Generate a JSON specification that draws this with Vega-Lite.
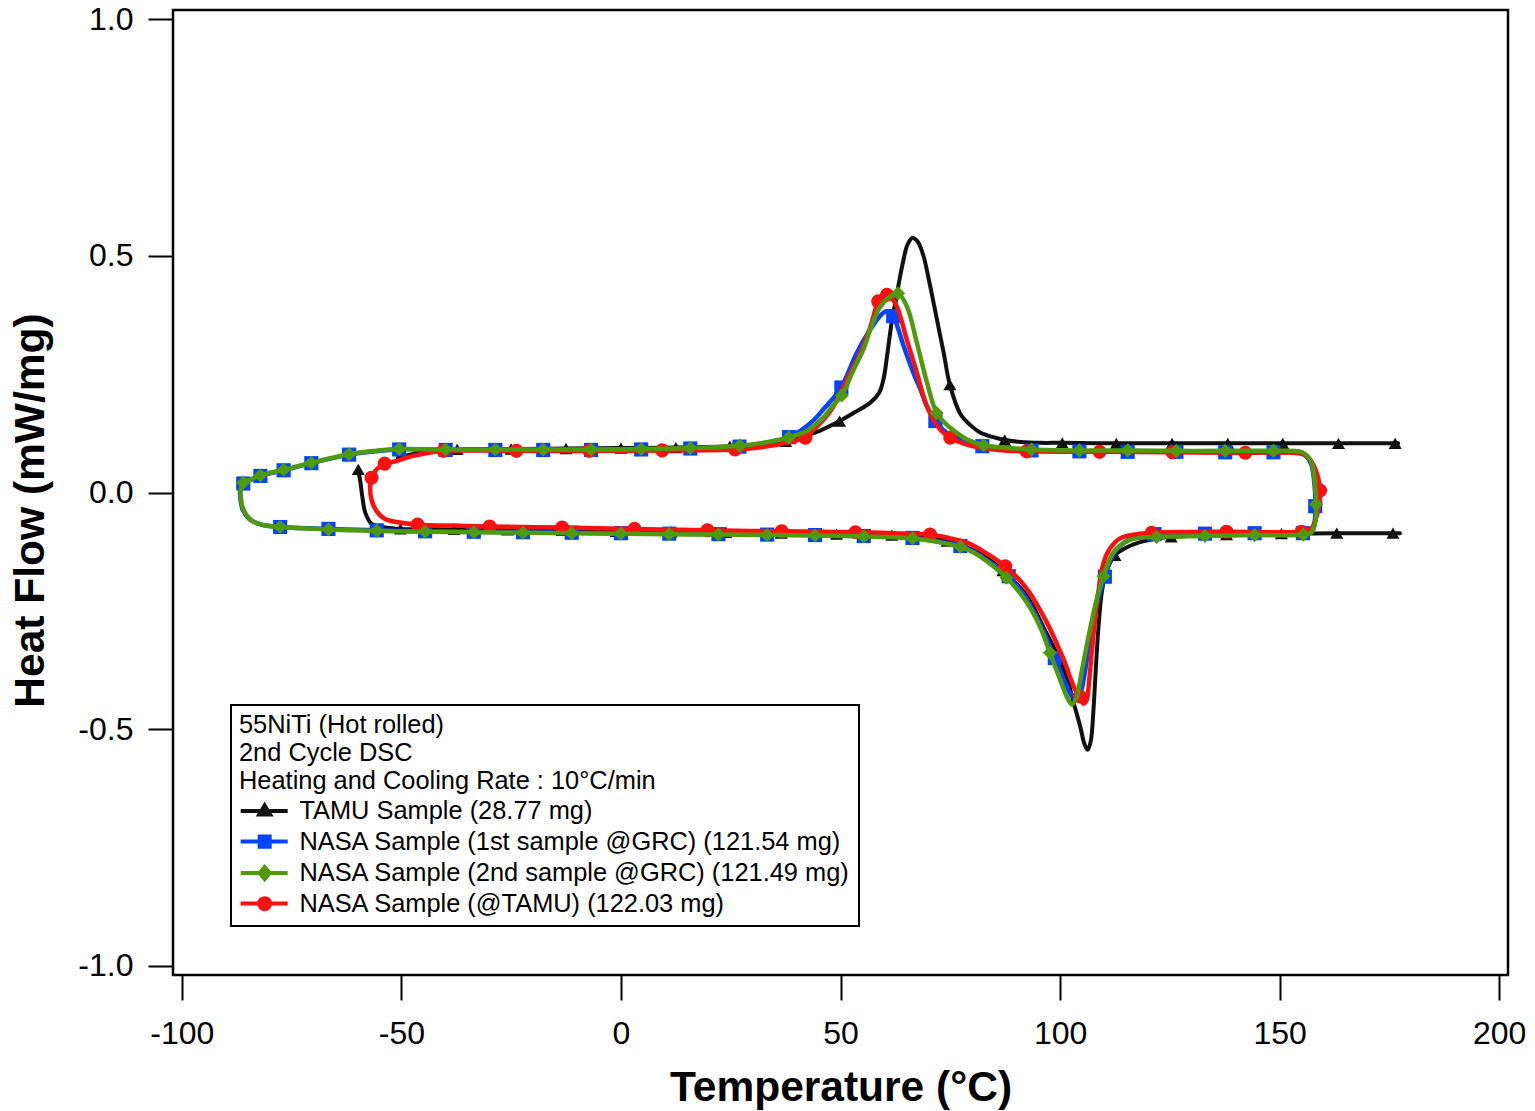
{
  "$schema": "https://vega.github.io/schema/vega-lite/v6.json",
  "width": 1335,
  "height": 965,
  "autosize": {"type": "none"},
  "padding": {"left": 173, "top": 10, "right": 27, "bottom": 136},
  "background": "white",
  "config": {
    "view": {"stroke": "black", "strokeWidth": 2.5},
    "font": "Liberation Sans",
    "axis": {"grid": false, "domain": false, "ticks": true, "tickColor": "black", "tickWidth": 2, "tickSize": 25,
      "labelColor": "black", "labelFont": "Liberation Sans", "labelFontSize": 32, "titleColor": "black",
      "titleFont": "Liberation Sans", "titleFontSize": 42.5, "titleFontWeight": "bold",
      "labelFlush": false, "labelOverlap": false, "labelBound": false}
  },
  "data": {"values": [
    {"s":"TAMU","g":1,"T":-59.8,"H":0.049,"m":1},{"s":"TAMU","g":1,"T":-59.3,"H":0.020},{"s":"TAMU","g":1,"T":-58.9,"H":-0.008},{"s":"TAMU","g":1,"T":-58.2,"H":-0.043},{"s":"TAMU","g":1,"T":-56.7,"H":-0.067},{"s":"TAMU","g":1,"T":-53.6,"H":-0.074},
    {"s":"TAMU","g":1,"T":-50.2,"H":-0.077,"m":1},{"s":"TAMU","g":1,"T":-38.0,"H":-0.078,"m":1},{"s":"TAMU","g":1,"T":-25.8,"H":-0.079,"m":1},{"s":"TAMU","g":1,"T":-13.4,"H":-0.080,"m":1},{"s":"TAMU","g":1,"T":-1.1,"H":-0.082,"m":1},{"s":"TAMU","g":1,"T":11.4,"H":-0.083,"m":1},{"s":"TAMU","g":1,"T":23.9,"H":-0.084,"m":1},{"s":"TAMU","g":1,"T":36.5,"H":-0.086,"m":1},{"s":"TAMU","g":1,"T":49.1,"H":-0.088,"m":1},{"s":"TAMU","g":1,"T":61.7,"H":-0.090,"m":1},
    {"s":"TAMU","g":1,"T":68.0,"H":-0.094},{"s":"TAMU","g":1,"T":74.3,"H":-0.103,"m":1},{"s":"TAMU","g":1,"T":78.8,"H":-0.116},{"s":"TAMU","g":1,"T":83.3,"H":-0.138},{"s":"TAMU","g":1,"T":87.0,"H":-0.165,"m":1},{"s":"TAMU","g":1,"T":92.4,"H":-0.218},{"s":"TAMU","g":1,"T":96.5,"H":-0.290},{"s":"TAMU","g":1,"T":99.7,"H":-0.350,"m":1},{"s":"TAMU","g":1,"T":101.8,"H":-0.400},{"s":"TAMU","g":1,"T":103.2,"H":-0.448},{"s":"TAMU","g":1,"T":104.6,"H":-0.495},{"s":"TAMU","g":1,"T":105.5,"H":-0.530},{"s":"TAMU","g":1,"T":106.3,"H":-0.544},{"s":"TAMU","g":1,"T":107.0,"H":-0.525},{"s":"TAMU","g":1,"T":107.6,"H":-0.460},{"s":"TAMU","g":1,"T":108.0,"H":-0.396},{"s":"TAMU","g":1,"T":108.7,"H":-0.290},{"s":"TAMU","g":1,"T":109.6,"H":-0.205},{"s":"TAMU","g":1,"T":110.8,"H":-0.160},{"s":"TAMU","g":1,"T":112.5,"H":-0.133,"m":1},{"s":"TAMU","g":1,"T":115.0,"H":-0.117},{"s":"TAMU","g":1,"T":118.2,"H":-0.105},{"s":"TAMU","g":1,"T":122.8,"H":-0.096},{"s":"TAMU","g":1,"T":125.3,"H":-0.094,"m":1},{"s":"TAMU","g":1,"T":131.0,"H":-0.091},{"s":"TAMU","g":1,"T":137.9,"H":-0.089,"m":1},{"s":"TAMU","g":1,"T":150.4,"H":-0.087,"m":1},{"s":"TAMU","g":1,"T":163.0,"H":-0.086,"m":1},{"s":"TAMU","g":1,"T":175.8,"H":-0.086,"m":1},{"s":"TAMU","g":1,"T":177.4,"H":-0.086},
    {"s":"TAMU","g":2,"T":177.0,"H":0.104},{"s":"TAMU","g":2,"T":176.3,"H":0.104,"m":1},{"s":"TAMU","g":2,"T":163.4,"H":0.104,"m":1},{"s":"TAMU","g":2,"T":150.7,"H":0.104,"m":1},{"s":"TAMU","g":2,"T":138.2,"H":0.104,"m":1},{"s":"TAMU","g":2,"T":125.5,"H":0.104,"m":1},{"s":"TAMU","g":2,"T":112.8,"H":0.104,"m":1},{"s":"TAMU","g":2,"T":100.5,"H":0.105,"m":1},{"s":"TAMU","g":2,"T":95.5,"H":0.105},{"s":"TAMU","g":2,"T":91.0,"H":0.107},{"s":"TAMU","g":2,"T":87.4,"H":0.111,"m":1},{"s":"TAMU","g":2,"T":84.8,"H":0.117},{"s":"TAMU","g":2,"T":81.8,"H":0.127},{"s":"TAMU","g":2,"T":79.5,"H":0.143},{"s":"TAMU","g":2,"T":77.3,"H":0.166},{"s":"TAMU","g":2,"T":74.9,"H":0.228,"m":1},{"s":"TAMU","g":2,"T":73.5,"H":0.295},{"s":"TAMU","g":2,"T":72.3,"H":0.350},{"s":"TAMU","g":2,"T":71.2,"H":0.401},{"s":"TAMU","g":2,"T":70.0,"H":0.455},{"s":"TAMU","g":2,"T":68.9,"H":0.500},{"s":"TAMU","g":2,"T":67.6,"H":0.530},{"s":"TAMU","g":2,"T":66.4,"H":0.538},{"s":"TAMU","g":2,"T":65.3,"H":0.525},{"s":"TAMU","g":2,"T":64.3,"H":0.490},{"s":"TAMU","g":2,"T":63.3,"H":0.443},{"s":"TAMU","g":2,"T":62.5,"H":0.400},{"s":"TAMU","g":2,"T":62.0,"H":0.380,"m":1},{"s":"TAMU","g":2,"T":61.2,"H":0.330},{"s":"TAMU","g":2,"T":60.5,"H":0.281},{"s":"TAMU","g":2,"T":59.8,"H":0.240},{"s":"TAMU","g":2,"T":58.8,"H":0.211},{"s":"TAMU","g":2,"T":56.8,"H":0.190},{"s":"TAMU","g":2,"T":53.7,"H":0.172},{"s":"TAMU","g":2,"T":49.8,"H":0.151,"m":1},{"s":"TAMU","g":2,"T":45.4,"H":0.131},{"s":"TAMU","g":2,"T":40.8,"H":0.117},{"s":"TAMU","g":2,"T":37.5,"H":0.108,"m":1},{"s":"TAMU","g":2,"T":30.5,"H":0.101},{"s":"TAMU","g":2,"T":24.8,"H":0.098,"m":1},{"s":"TAMU","g":2,"T":12.5,"H":0.095,"m":1},{"s":"TAMU","g":2,"T":0.0,"H":0.094,"m":1},{"s":"TAMU","g":2,"T":-12.5,"H":0.093,"m":1},{"s":"TAMU","g":2,"T":-25.0,"H":0.092,"m":1},{"s":"TAMU","g":2,"T":-37.3,"H":0.091,"m":1},{"s":"TAMU","g":2,"T":-44.0,"H":0.087},{"s":"TAMU","g":2,"T":-48.0,"H":0.080},{"s":"TAMU","g":2,"T":-50.8,"H":0.073},

    {"s":"GRC1","T":-86.0,"H":0.019,"m":1},{"s":"GRC1","T":-86.7,"H":0.003},{"s":"GRC1","T":-86.6,"H":-0.017},{"s":"GRC1","T":-86.1,"H":-0.037},{"s":"GRC1","T":-84.5,"H":-0.057},{"s":"GRC1","T":-81.9,"H":-0.068},{"s":"GRC1","T":-77.6,"H":-0.073,"m":1},{"s":"GRC1","T":-66.6,"H":-0.077,"m":1},{"s":"GRC1","T":-55.6,"H":-0.080,"m":1},{"s":"GRC1","T":-44.6,"H":-0.082,"m":1},{"s":"GRC1","T":-33.5,"H":-0.083,"m":1},{"s":"GRC1","T":-22.3,"H":-0.084,"m":1},{"s":"GRC1","T":-11.2,"H":-0.085,"m":1},{"s":"GRC1","T":0.0,"H":-0.086,"m":1},{"s":"GRC1","T":11.0,"H":-0.087,"m":1},{"s":"GRC1","T":22.2,"H":-0.088,"m":1},{"s":"GRC1","T":33.3,"H":-0.089,"m":1},{"s":"GRC1","T":44.2,"H":-0.090,"m":1},{"s":"GRC1","T":55.3,"H":-0.092,"m":1},{"s":"GRC1","T":66.4,"H":-0.096,"m":1},
    {"s":"GRC1","T":72.0,"H":-0.103},{"s":"GRC1","T":77.3,"H":-0.113,"m":1},{"s":"GRC1","T":80.5,"H":-0.126},{"s":"GRC1","T":83.3,"H":-0.143},{"s":"GRC1","T":88.3,"H":-0.177,"m":1},{"s":"GRC1","T":92.4,"H":-0.225},{"s":"GRC1","T":95.8,"H":-0.285},{"s":"GRC1","T":98.8,"H":-0.350,"m":1},{"s":"GRC1","T":101.3,"H":-0.405},{"s":"GRC1","T":102.8,"H":-0.432},{"s":"GRC1","T":103.9,"H":-0.440},{"s":"GRC1","T":105.0,"H":-0.412},{"s":"GRC1","T":106.5,"H":-0.330},{"s":"GRC1","T":108.2,"H":-0.245},{"s":"GRC1","T":110.2,"H":-0.178,"m":1},{"s":"GRC1","T":112.3,"H":-0.128},{"s":"GRC1","T":115.5,"H":-0.101},{"s":"GRC1","T":118.5,"H":-0.092},{"s":"GRC1","T":121.5,"H":-0.088,"m":1},{"s":"GRC1","T":133.0,"H":-0.087,"m":1},{"s":"GRC1","T":144.3,"H":-0.086,"m":1},{"s":"GRC1","T":155.3,"H":-0.086,"m":1},{"s":"GRC1","T":157.3,"H":-0.081},{"s":"GRC1","T":158.0,"H":-0.060},{"s":"GRC1","T":158.1,"H":-0.029,"m":1},{"s":"GRC1","T":158.0,"H":0.010},{"s":"GRC1","T":157.2,"H":0.060},{"s":"GRC1","T":156.0,"H":0.077},{"s":"GRC1","T":154.5,"H":0.084},
    {"s":"GRC1","T":148.6,"H":0.085,"m":1},{"s":"GRC1","T":137.6,"H":0.085,"m":1},{"s":"GRC1","T":126.5,"H":0.086,"m":1},{"s":"GRC1","T":115.4,"H":0.086,"m":1},{"s":"GRC1","T":104.4,"H":0.087,"m":1},{"s":"GRC1","T":93.5,"H":0.089,"m":1},{"s":"GRC1","T":87.0,"H":0.092},{"s":"GRC1","T":82.3,"H":0.098,"m":1},{"s":"GRC1","T":78.8,"H":0.108},{"s":"GRC1","T":76.5,"H":0.116},{"s":"GRC1","T":74.2,"H":0.126},{"s":"GRC1","T":71.6,"H":0.151,"m":1},{"s":"GRC1","T":69.7,"H":0.182},{"s":"GRC1","T":68.2,"H":0.218},{"s":"GRC1","T":66.6,"H":0.253},{"s":"GRC1","T":64.4,"H":0.309},{"s":"GRC1","T":63.0,"H":0.350},{"s":"GRC1","T":62.0,"H":0.373,"m":1},{"s":"GRC1","T":60.5,"H":0.383},{"s":"GRC1","T":59.0,"H":0.373},{"s":"GRC1","T":56.8,"H":0.345},{"s":"GRC1","T":53.7,"H":0.295},{"s":"GRC1","T":50.2,"H":0.222,"m":1},{"s":"GRC1","T":48.4,"H":0.200},{"s":"GRC1","T":46.5,"H":0.180},{"s":"GRC1","T":43.8,"H":0.152},{"s":"GRC1","T":40.8,"H":0.130},{"s":"GRC1","T":38.3,"H":0.117,"m":1},{"s":"GRC1","T":33.0,"H":0.105},{"s":"GRC1","T":27.0,"H":0.097,"m":1},{"s":"GRC1","T":15.8,"H":0.093,"m":1},{"s":"GRC1","T":4.6,"H":0.091,"m":1},{"s":"GRC1","T":-6.8,"H":0.090,"m":1},{"s":"GRC1","T":-17.7,"H":0.090,"m":1},{"s":"GRC1","T":-28.6,"H":0.090,"m":1},{"s":"GRC1","T":-39.9,"H":0.090,"m":1},{"s":"GRC1","T":-50.5,"H":0.091,"m":1},{"s":"GRC1","T":-56.0,"H":0.087},{"s":"GRC1","T":-61.9,"H":0.080,"m":1},{"s":"GRC1","T":-70.5,"H":0.062,"m":1},{"s":"GRC1","T":-76.8,"H":0.047,"m":1},{"s":"GRC1","T":-82.1,"H":0.035,"m":1},{"s":"GRC1","T":-86.0,"H":0.019},

    {"s":"NTAMU","T":-56.8,"H":0.031,"m":1},{"s":"NTAMU","T":-57.1,"H":0.013},{"s":"NTAMU","T":-56.8,"H":-0.015},{"s":"NTAMU","T":-55.6,"H":-0.040},{"s":"NTAMU","T":-53.7,"H":-0.056},{"s":"NTAMU","T":-49.9,"H":-0.064},{"s":"NTAMU","T":-46.3,"H":-0.068,"m":1},{"s":"NTAMU","T":-38.0,"H":-0.070},{"s":"NTAMU","T":-29.9,"H":-0.072,"m":1},{"s":"NTAMU","T":-13.4,"H":-0.074,"m":1},{"s":"NTAMU","T":3.1,"H":-0.077,"m":1},{"s":"NTAMU","T":19.7,"H":-0.080,"m":1},{"s":"NTAMU","T":36.6,"H":-0.082,"m":1},{"s":"NTAMU","T":53.4,"H":-0.084,"m":1},{"s":"NTAMU","T":62.0,"H":-0.086},{"s":"NTAMU","T":70.4,"H":-0.089,"m":1},{"s":"NTAMU","T":75.0,"H":-0.097},{"s":"NTAMU","T":78.8,"H":-0.106},{"s":"NTAMU","T":83.0,"H":-0.127},{"s":"NTAMU","T":87.5,"H":-0.156,"m":1},{"s":"NTAMU","T":92.4,"H":-0.203},{"s":"NTAMU","T":97.0,"H":-0.275},{"s":"NTAMU","T":100.8,"H":-0.353},{"s":"NTAMU","T":103.4,"H":-0.416},{"s":"NTAMU","T":104.5,"H":-0.431,"m":1},{"s":"NTAMU","T":105.3,"H":-0.446},{"s":"NTAMU","T":106.0,"H":-0.440},{"s":"NTAMU","T":106.6,"H":-0.400},{"s":"NTAMU","T":107.2,"H":-0.339},{"s":"NTAMU","T":108.4,"H":-0.233},{"s":"NTAMU","T":109.9,"H":-0.149},{"s":"NTAMU","T":111.4,"H":-0.118},{"s":"NTAMU","T":113.7,"H":-0.097},{"s":"NTAMU","T":117.5,"H":-0.088},{"s":"NTAMU","T":120.9,"H":-0.085,"m":1},{"s":"NTAMU","T":137.9,"H":-0.083,"m":1},{"s":"NTAMU","T":155.0,"H":-0.083,"m":1},{"s":"NTAMU","T":157.0,"H":-0.079},{"s":"NTAMU","T":158.1,"H":-0.060},{"s":"NTAMU","T":158.9,"H":-0.030},{"s":"NTAMU","T":159.2,"H":0.004,"m":1},{"s":"NTAMU","T":158.8,"H":0.030},{"s":"NTAMU","T":157.6,"H":0.060},{"s":"NTAMU","T":156.2,"H":0.077},{"s":"NTAMU","T":154.5,"H":0.083},
    {"s":"NTAMU","T":142.2,"H":0.084,"m":1},{"s":"NTAMU","T":125.6,"H":0.085,"m":1},{"s":"NTAMU","T":109.0,"H":0.086,"m":1},{"s":"NTAMU","T":92.4,"H":0.087,"m":1},{"s":"NTAMU","T":86.0,"H":0.090},{"s":"NTAMU","T":81.0,"H":0.096},{"s":"NTAMU","T":78.8,"H":0.101},{"s":"NTAMU","T":75.0,"H":0.116,"m":1},{"s":"NTAMU","T":72.7,"H":0.133},{"s":"NTAMU","T":69.7,"H":0.182},{"s":"NTAMU","T":67.4,"H":0.253},{"s":"NTAMU","T":65.1,"H":0.323},{"s":"NTAMU","T":62.5,"H":0.400},{"s":"NTAMU","T":60.6,"H":0.418,"m":1},{"s":"NTAMU","T":59.6,"H":0.414},{"s":"NTAMU","T":58.6,"H":0.404,"m":1},{"s":"NTAMU","T":56.8,"H":0.350},{"s":"NTAMU","T":54.5,"H":0.295},{"s":"NTAMU","T":51.5,"H":0.239},{"s":"NTAMU","T":48.4,"H":0.182},{"s":"NTAMU","T":46.8,"H":0.161},{"s":"NTAMU","T":43.9,"H":0.133},{"s":"NTAMU","T":42.0,"H":0.116,"m":1},{"s":"NTAMU","T":40.0,"H":0.110},{"s":"NTAMU","T":37.8,"H":0.105},{"s":"NTAMU","T":33.0,"H":0.097},{"s":"NTAMU","T":26.0,"H":0.091,"m":1},{"s":"NTAMU","T":9.4,"H":0.089,"m":1},{"s":"NTAMU","T":-7.2,"H":0.088,"m":1},{"s":"NTAMU","T":-23.8,"H":0.088,"m":1},{"s":"NTAMU","T":-40.4,"H":0.088,"m":1},{"s":"NTAMU","T":-45.0,"H":0.082},{"s":"NTAMU","T":-47.6,"H":0.077},{"s":"NTAMU","T":-51.4,"H":0.066},{"s":"NTAMU","T":-53.8,"H":0.061,"m":1},{"s":"NTAMU","T":-55.6,"H":0.049},{"s":"NTAMU","T":-56.8,"H":0.031},

    {"s":"GRC2","T":-86.0,"H":0.021,"m":1},{"s":"GRC2","T":-86.6,"H":0.005},{"s":"GRC2","T":-86.5,"H":-0.015},{"s":"GRC2","T":-86.0,"H":-0.036},{"s":"GRC2","T":-84.4,"H":-0.057},{"s":"GRC2","T":-81.8,"H":-0.068},{"s":"GRC2","T":-77.6,"H":-0.073,"m":1},{"s":"GRC2","T":-66.6,"H":-0.078,"m":1},{"s":"GRC2","T":-55.6,"H":-0.081,"m":1},{"s":"GRC2","T":-44.6,"H":-0.083,"m":1},{"s":"GRC2","T":-33.5,"H":-0.084,"m":1},{"s":"GRC2","T":-22.3,"H":-0.085,"m":1},{"s":"GRC2","T":-11.2,"H":-0.086,"m":1},{"s":"GRC2","T":0.0,"H":-0.087,"m":1},{"s":"GRC2","T":11.0,"H":-0.088,"m":1},{"s":"GRC2","T":22.2,"H":-0.089,"m":1},{"s":"GRC2","T":33.3,"H":-0.090,"m":1},{"s":"GRC2","T":44.2,"H":-0.091,"m":1},{"s":"GRC2","T":55.3,"H":-0.093,"m":1},{"s":"GRC2","T":66.4,"H":-0.097,"m":1},
    {"s":"GRC2","T":72.0,"H":-0.104},{"s":"GRC2","T":77.3,"H":-0.115,"m":1},{"s":"GRC2","T":80.5,"H":-0.128},{"s":"GRC2","T":83.3,"H":-0.145},{"s":"GRC2","T":87.8,"H":-0.180,"m":1},{"s":"GRC2","T":92.4,"H":-0.232},{"s":"GRC2","T":95.5,"H":-0.285},{"s":"GRC2","T":97.7,"H":-0.339,"m":1},{"s":"GRC2","T":100.0,"H":-0.395},{"s":"GRC2","T":101.5,"H":-0.431},{"s":"GRC2","T":102.7,"H":-0.448},{"s":"GRC2","T":103.8,"H":-0.432},{"s":"GRC2","T":104.8,"H":-0.385},{"s":"GRC2","T":106.8,"H":-0.290},{"s":"GRC2","T":108.5,"H":-0.220},{"s":"GRC2","T":109.9,"H":-0.177,"m":1},{"s":"GRC2","T":112.1,"H":-0.127},{"s":"GRC2","T":115.2,"H":-0.103},{"s":"GRC2","T":118.2,"H":-0.096},{"s":"GRC2","T":122.0,"H":-0.094,"m":1},{"s":"GRC2","T":133.0,"H":-0.092,"m":1},{"s":"GRC2","T":144.3,"H":-0.090,"m":1},{"s":"GRC2","T":155.4,"H":-0.089,"m":1},{"s":"GRC2","T":157.3,"H":-0.084},{"s":"GRC2","T":158.1,"H":-0.064},{"s":"GRC2","T":158.3,"H":-0.025,"m":1},{"s":"GRC2","T":158.1,"H":0.013},{"s":"GRC2","T":157.3,"H":0.062},{"s":"GRC2","T":156.0,"H":0.080},{"s":"GRC2","T":154.5,"H":0.087},
    {"s":"GRC2","T":148.6,"H":0.088,"m":1},{"s":"GRC2","T":137.6,"H":0.088,"m":1},{"s":"GRC2","T":126.5,"H":0.088,"m":1},{"s":"GRC2","T":115.4,"H":0.089,"m":1},{"s":"GRC2","T":104.4,"H":0.089,"m":1},{"s":"GRC2","T":93.5,"H":0.091,"m":1},{"s":"GRC2","T":87.0,"H":0.095},{"s":"GRC2","T":82.6,"H":0.100,"m":1},{"s":"GRC2","T":78.8,"H":0.112},{"s":"GRC2","T":76.5,"H":0.126},{"s":"GRC2","T":74.0,"H":0.145},{"s":"GRC2","T":71.9,"H":0.168,"m":1},{"s":"GRC2","T":69.7,"H":0.232},{"s":"GRC2","T":67.4,"H":0.316},{"s":"GRC2","T":65.1,"H":0.394},{"s":"GRC2","T":63.1,"H":0.421,"m":1},{"s":"GRC2","T":61.3,"H":0.414},{"s":"GRC2","T":59.0,"H":0.392},{"s":"GRC2","T":57.0,"H":0.350},{"s":"GRC2","T":55.2,"H":0.302},{"s":"GRC2","T":53.0,"H":0.260},{"s":"GRC2","T":50.3,"H":0.205,"m":1},{"s":"GRC2","T":48.4,"H":0.185},{"s":"GRC2","T":46.5,"H":0.163},{"s":"GRC2","T":44.5,"H":0.145},{"s":"GRC2","T":42.3,"H":0.130},{"s":"GRC2","T":40.2,"H":0.122},{"s":"GRC2","T":38.2,"H":0.116,"m":1},{"s":"GRC2","T":33.0,"H":0.106},{"s":"GRC2","T":27.1,"H":0.099,"m":1},{"s":"GRC2","T":15.8,"H":0.094,"m":1},{"s":"GRC2","T":4.6,"H":0.092,"m":1},{"s":"GRC2","T":-6.8,"H":0.091,"m":1},{"s":"GRC2","T":-17.7,"H":0.091,"m":1},{"s":"GRC2","T":-28.6,"H":0.091,"m":1},{"s":"GRC2","T":-39.9,"H":0.091,"m":1},{"s":"GRC2","T":-50.5,"H":0.092,"m":1},{"s":"GRC2","T":-56.0,"H":0.088},{"s":"GRC2","T":-61.9,"H":0.081,"m":1},{"s":"GRC2","T":-70.5,"H":0.063,"m":1},{"s":"GRC2","T":-76.8,"H":0.048,"m":1},{"s":"GRC2","T":-82.1,"H":0.036,"m":1},{"s":"GRC2","T":-86.0,"H":0.021}
  ]},
  "encoding": {
    "x": {"field": "T", "type": "quantitative",
      "scale": {"domain": [-102, 202], "nice": false, "zero": false},
      "axis": {"values": [-100, -50, 0, 50, 100, 150, 200], "title": "Temperature (°C)", "labelPadding": 18, "titlePadding": 17, "labelExpr": "'' + datum.value"}},
    "y": {"field": "H", "type": "quantitative",
      "scale": {"domain": [-1.02, 1.02], "nice": false, "zero": false},
      "axis": {"values": [-1, -0.5, 0, 0.5, 1], "title": "Heat Flow (mW/mg)", "labelPadding": 15, "titlePadding": 25, "titleY": 500,
        "labelExpr": "replace(format(datum.value, '.1f'), '\u2212', '-')"}},
    "color": {"field": "s", "type": "nominal",
      "scale": {"domain": ["TAMU", "GRC1", "GRC2", "NTAMU"], "range": ["#111111", "#0044ff", "#4f9a0c", "#ff1010"]},
      "legend": {
        "orient": "none", "legendX": 58, "legendY": 695, "direction": "vertical", "columns": 1,
        "title": ["55NiTi (Hot rolled)", "2nd Cycle DSC", "Heating and Cooling Rate : 10°C/min"],
        "titleFont": "Liberation Sans", "titleFontSize": 25.4, "titleFontWeight": "normal", "titleColor": "black",
        "titleLineHeight": 28, "titlePadding": 4, "titleLimit": 2000, "titleAnchor": "start", "titleAlign": "left",
        "labelFont": "Liberation Sans", "labelFontSize": 25.4, "labelColor": "black", "labelLimit": 2000, "labelOffset": 35,
        "labelExpr": "datum.value == 'TAMU' ? 'TAMU Sample (28.77 mg)' : datum.value == 'GRC1' ? 'NASA Sample (1st sample @GRC) (121.54 mg)' : datum.value == 'GRC2' ? 'NASA Sample (2nd sample @GRC) (121.49 mg)' : 'NASA Sample (@TAMU) (122.03 mg)'",
        "symbolSize": 225, "rowPadding": 2.5, "padding": 8, "strokeColor": "black", "fillColor": "white",
        "encode": {
          "legend": {"update": {"strokeWidth": {"value": 2}}},
          "symbols": {"update": {
            "shape": {"signal": "datum.value == 'TAMU' ? 'M-1.47,0H4.8M1.73,-0.75L2.45,0.45L1.01,0.45Z' : datum.value == 'GRC1' ? 'M-1.47,0H4.8M1.06,-0.67H2.4V0.67H1.06Z' : datum.value == 'GRC2' ? 'M-1.47,0H4.8M1.73,-0.8L2.4,0L1.73,0.8L1.06,0Z' : 'M-1.47,0H4.8M2.46,0A0.73,0.73,0,1,1,1.0,0A0.73,0.73,0,1,1,2.46,0Z'"},
            "fill": {"signal": "scale('color', datum.value)"},
            "stroke": {"signal": "scale('color', datum.value)"},
            "strokeWidth": {"value": 4},
            "opacity": {"value": 1},
            "fillOpacity": {"value": 1},
            "strokeOpacity": {"value": 1}
          }}
        }
      }},
    "detail": {"field": "g"},
    "order": {"value": null}
  },
  "layer": [
    {"transform": [{"filter": "datum.s == 'TAMU'"}], "mark": {"type": "line", "strokeWidth": 4, "interpolate": "catmull-rom", "strokeJoin": "round", "strokeCap": "round"}},
    {"transform": [{"filter": "datum.s == 'TAMU' && datum.m == 1"}], "mark": {"type": "point", "filled": true, "size": 170, "opacity": 1, "strokeWidth": 0},
      "encoding": {"shape": {"field": "s", "type": "nominal", "scale": {"domain": ["NTAMU", "TAMU", "GRC1", "GRC2"], "range": ["circle", "triangle-up", "square", "diamond"]}, "legend": null}}},
    {"transform": [{"filter": "datum.s == 'GRC1'"}], "mark": {"type": "line", "strokeWidth": 4.5, "interpolate": "catmull-rom", "strokeJoin": "round", "strokeCap": "round"}},
    {"transform": [{"filter": "datum.s == 'GRC1' && datum.m == 1"}], "mark": {"type": "point", "filled": true, "size": 200, "opacity": 1, "strokeWidth": 0},
      "encoding": {"shape": {"field": "s", "type": "nominal", "legend": null}}},
    {"transform": [{"filter": "datum.s == 'NTAMU'"}], "mark": {"type": "line", "strokeWidth": 4.5, "interpolate": "catmull-rom", "strokeJoin": "round", "strokeCap": "round"}},
    {"transform": [{"filter": "datum.s == 'NTAMU' && datum.m == 1"}], "mark": {"type": "point", "filled": true, "size": 200, "opacity": 1, "strokeWidth": 0},
      "encoding": {"shape": {"field": "s", "type": "nominal", "legend": null}}},
    {"transform": [{"filter": "datum.s == 'GRC2'"}], "mark": {"type": "line", "strokeWidth": 4.5, "interpolate": "catmull-rom", "strokeJoin": "round", "strokeCap": "round"}},
    {"transform": [{"filter": "datum.s == 'GRC2' && datum.m == 1"}], "mark": {"type": "point", "filled": true, "size": 200, "opacity": 1, "strokeWidth": 0},
      "encoding": {"shape": {"field": "s", "type": "nominal", "legend": null}}}
  ]
}
